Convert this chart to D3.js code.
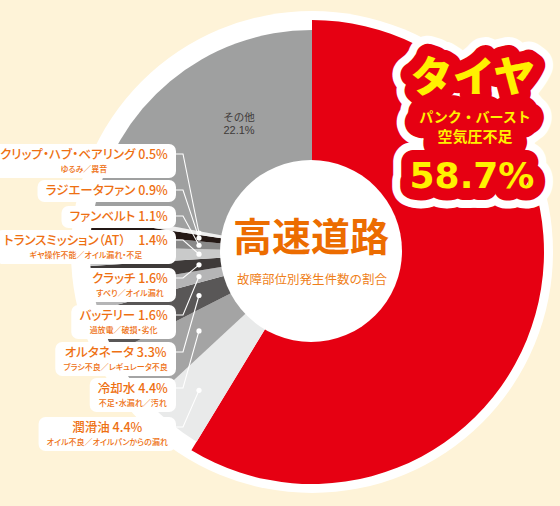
<!DOCTYPE html>
<html><head><meta charset="utf-8">
<script src="https://cdn.jsdelivr.net/npm/d3@7"></script>
<style>
html,body{margin:0;padding:0;background:#fef3d8;}
svg{display:block;}
text{font-family:"Noto Sans CJK JP","Noto Sans",sans-serif;}
.palt{font-feature-settings:"palt";}
</style></head><body>
<svg id="c" width="560" height="506"></svg>
<script>
// ---- data ----
const categories = ["タイヤ","潤滑油","冷却水","オルタネータ","バッテリー","クラッチ","トランスミッション（AT）","ファンベルト","ラジエータファン","クリップ・ハブ・ベアリング","その他"];
const values = [58.7,4.4,4.4,3.3,1.6,1.6,1.4,1.1,0.9,0.5,22.1];
const causes = ["パンク・バースト／空気圧不足","オイル不良／オイルパンからの漏れ","不足・水漏れ／汚れ","ブラシ不良／レギュレータ不良","過放電／破損・劣化","すべり／オイル漏れ","ギヤ操作不能／オイル漏れ・不足","","","ゆるみ／異音",""];
const colors = ["#e60012","#e9eaea","#a4a4a4","#595757","#b5b5b6","#3e3a39","#c9caca","#898989","#231815","#efefef","#9fa0a0"];
const title = "高速道路";
const subtitle = "故障部位別発生件数の割合";
// label layout (main-line baselines for slices 1..9)
const labelBaselines = [432,393,357,320,283,245,221,195,159];

const W=560,H=506,cx=312,cy=252;
const svg=d3.select("#c");
svg.append("rect").attr("width",W).attr("height",H).attr("fill","#fef3d8");
const g=svg.append("g").attr("transform",`translate(${cx},${cy})`);
g.append("circle").attr("r",241).attr("fill","#fff");

const arcs=d3.pie().sort(null).value(d=>d)(values);
const arc=d3.arc().innerRadius(0).outerRadius(d=>d.index===0?232:222);
g.selectAll("path.slice").data(arcs).join("path").attr("class","slice")
  .attr("d",arc).attr("fill",(d,i)=>colors[i]);

g.append("circle").attr("r",91).attr("cx",-1).attr("cy",-1).attr("fill","#fff");

// その他 label
const oi = categories.length-1;
svg.append("text").attr("x",239).attr("y",120.5).attr("text-anchor","middle")
  .attr("font-size",10.5).attr("fill","#3e3a39").text(categories[oi]);
svg.append("text").attr("x",239).attr("y",134).attr("text-anchor","middle")
  .style("font-family",'"Liberation Sans",Arial,sans-serif')
  .attr("font-size",11).attr("fill","#3e3a39").text(values[oi].toFixed(1)+"%");

// center title
svg.append("text").attr("x",311).attr("y",251).attr("text-anchor","middle")
  .attr("font-size",39).attr("font-weight",700).attr("fill","#ec6c00").text(title);
svg.append("text").attr("x",312).attr("y",284).attr("text-anchor","middle")
  .attr("font-size",12.5).attr("fill","#ef7f1a").text(subtitle);

// small-slice labels
const boxRight=176, pad=8, dotDx=113, elbowX=183;
const lines=svg.append("g"), boxes=svg.append("g");
for(let i=1;i<=9;i++){
  const a=arcs[i]; const mid=(a.startAngle+a.endAngle)/2;
  const dx=-dotDx, dy=dotDx*Math.cos(mid)/Math.sin(mid);
  const px=cx+dx, py=cy+dy;
  const by=labelBaselines[i-1];
  const grp=boxes.append("g");
  const t1=grp.append("text").attr("class","palt").attr("text-anchor","middle")
    .attr("font-size",12.5).attr("font-weight",500).attr("fill","#ee7012")
    .attr("y",by).text(categories[i]+(i===6?"　":" ")+values[i].toFixed(1)+"%");
  let w=t1.node().getBBox().width;
  let t2=null;
  if(causes[i]){
    t2=grp.append("text").attr("class","palt").attr("text-anchor","middle")
      .attr("font-size",8).attr("font-weight",500).attr("fill","#ee7012")
      .attr("y",by+13).text(causes[i]);
    w=Math.max(w,t2.node().getBBox().width);
  }
  const mx=boxRight-pad-w/2;
  t1.attr("x",mx); if(t2) t2.attr("x",mx);
  const top=by-15, bot=t2?by+19:by+7;
  grp.insert("rect","text").attr("x",boxRight-w-2*pad).attr("y",top)
    .attr("width",w+2*pad).attr("height",bot-top).attr("rx",7).attr("fill","#fff");
  const ly=by-5;
  lines.append("polyline").attr("points",`${boxRight-2},${ly} ${elbowX},${ly} ${px},${py}`)
    .attr("fill","none").attr("stroke","#fff").attr("stroke-width",1.1);
  lines.append("circle").attr("cx",px).attr("cy",py).attr("r",2.6).attr("fill","#fff");
}
lines.raise();

// tire callout
const tire=[
  {t:categories[0],x:473,y:92,s:42,w:900,f:'"Noto Sans CJK JP"'},
  {t:causes[0].split("／")[0],x:475,y:122,s:14,w:700,f:'"Noto Sans CJK JP"'},
  {t:causes[0].split("／")[1],x:475,y:142,s:15,w:700,f:'"Noto Sans CJK JP"'},
  {t:values[0].toFixed(1)+"%",x:472,y:188,s:36,w:700,f:'"DejaVu Sans"'}
];
const tg=svg.append("g");
const layers=[{stroke:"#fff",big:40,small:46},{stroke:"#e60012",big:24,small:30},{stroke:null}];
layers.forEach(L=>{
  tire.forEach(d=>{
    const t=tg.append("text").attr("x",d.x).attr("y",d.y).attr("text-anchor","middle")
      .attr("font-size",d.s).attr("font-weight",d.w).style("font-family",d.f).text(d.t);
    if(L.stroke){
      t.attr("fill",L.stroke).attr("stroke",L.stroke).attr("stroke-width",d.s>30?L.big:L.small)
       .attr("stroke-linejoin","round").attr("stroke-linecap","round");
    } else t.attr("fill","#fff100");
  });
});
</script></body></html>
